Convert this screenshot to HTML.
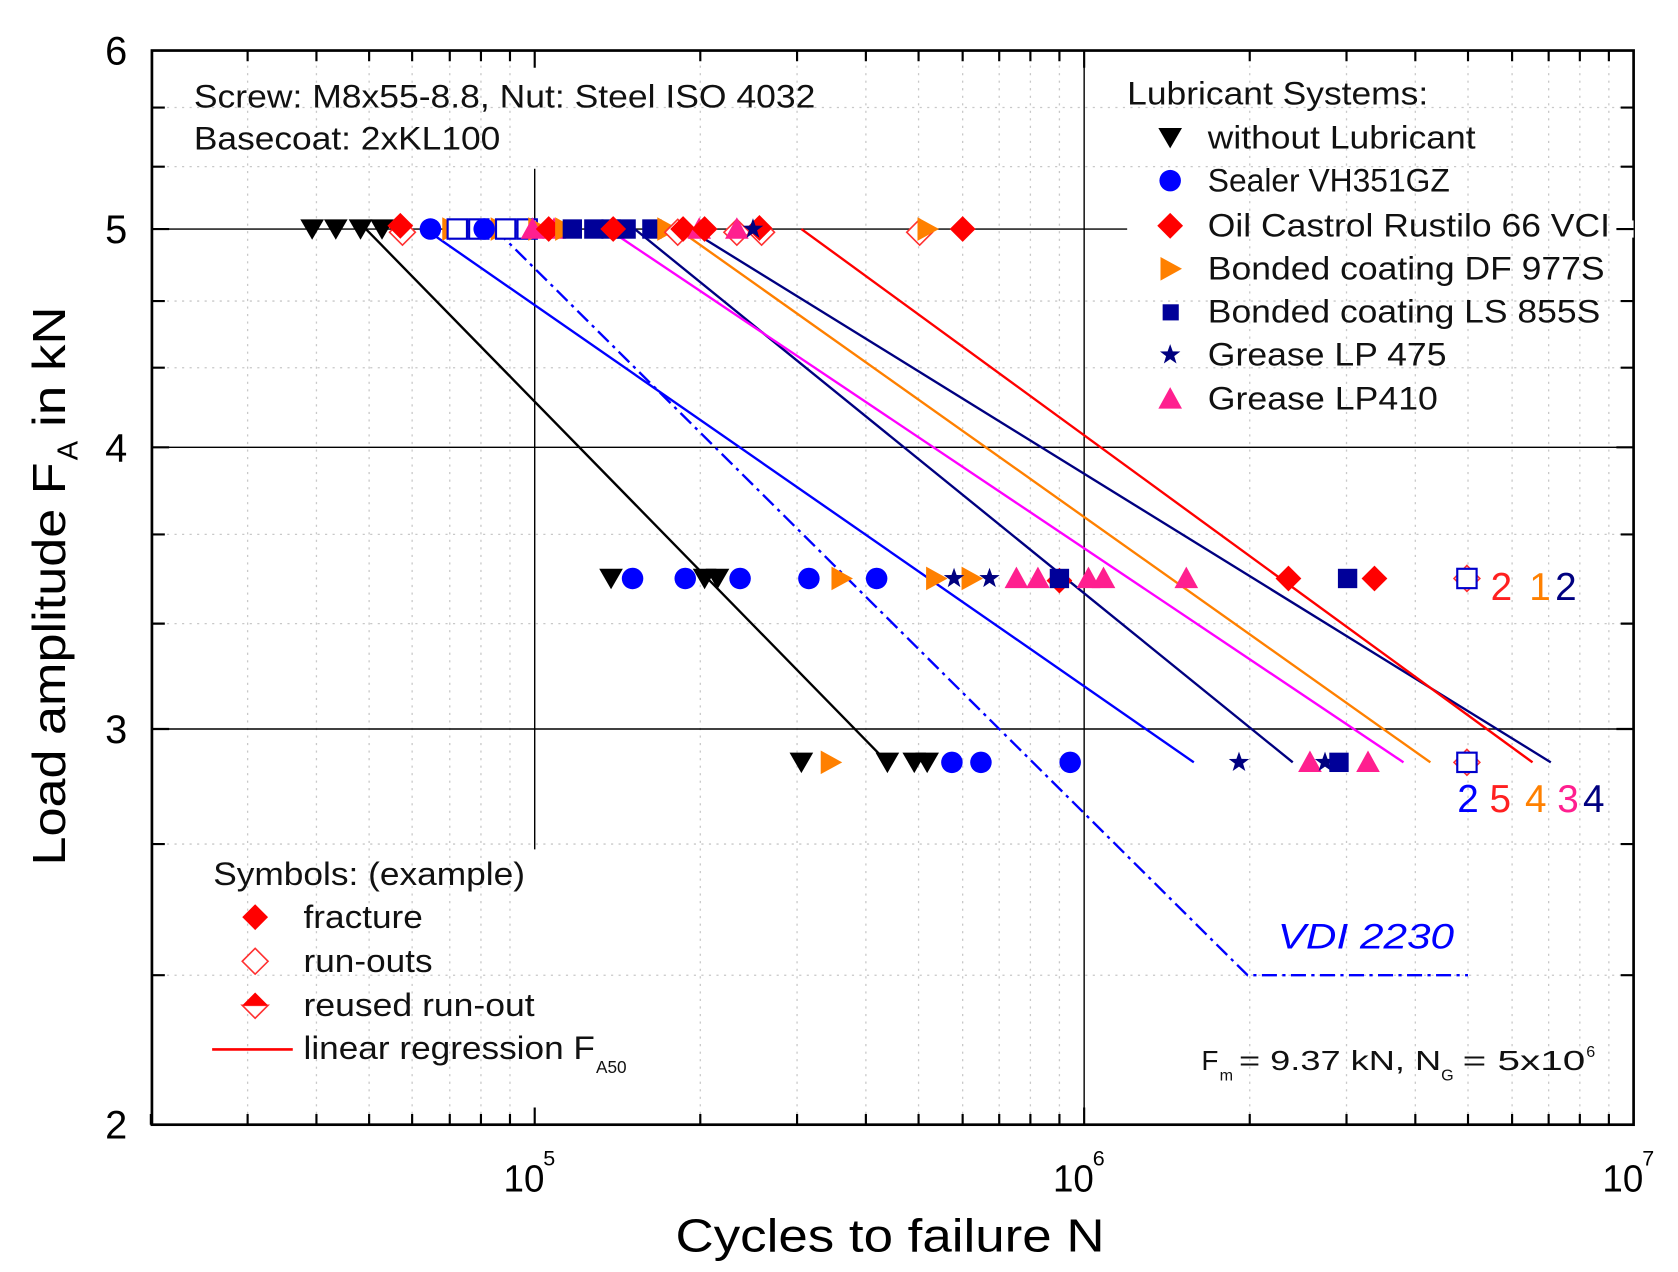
<!DOCTYPE html>
<html><head><meta charset="utf-8"><style>
html,body{margin:0;padding:0;background:#fff;}
svg{display:block;font-family:"Liberation Sans",Arial,sans-serif;}
</style></head><body>
<svg width="1678" height="1272" viewBox="0 0 1560 1183" xmlns="http://www.w3.org/2000/svg">
<defs>
<polygon id="dn" points="0,10 -11,-9 11,-9" fill="#000"/>
<circle id="ci" r="10" fill="#0000ff"/>
<polygon id="di" points="0,-12 12,0 0,12 -12,0" fill="#ff0000"/>
<polygon id="od" points="0,-12 12,0 0,12 -12,0" fill="#fff" stroke="#ff3030" stroke-width="1.5"/>
<polygon id="rt" points="-9,-11 11,0 -9,11" fill="#ff8000"/>
<rect id="sq" x="-9" y="-9" width="18" height="18" fill="#000099"/>
<rect id="os" x="-9" y="-9" width="18" height="18" fill="#fff" stroke="#0000cc" stroke-width="2"/>
<polygon id="st" points="0,-10 2.4,-3.2 9.5,-3.1 3.8,1.2 5.9,8.1 0,4 -5.9,8.1 -3.8,1.2 -9.5,-3.1 -2.4,-3.2" fill="#000080"/>
<polygon id="up" points="0,-11 11,9 -11,9" fill="#ff1f8f"/>
</defs>

<g stroke="#c8c8c8" stroke-width="1.2" stroke-dasharray="2 5">
<path d="M230 47V1046M294 47V1046M343 47V1046M383 47V1046M418 47V1046M447 47V1046M474 47V1046M651 47V1046M741 47V1046M805 47V1046M854 47V1046M895 47V1046M929 47V1046M958 47V1046M985 47V1046M1162 47V1046M1252 47V1046M1316 47V1046M1365 47V1046M1406 47V1046M1440 47V1046M1469 47V1046M1496 47V1046"/>
<path d="M141 100H1519M141 155H1519M141 280H1519M141 342H1519M141 497H1519M141 580H1519M141 785H1519M141 907H1519"/>
</g>
<g stroke="#000" stroke-width="1.3">
<path d="M141 213H1048M141 416H1519M141 678H1519M497 157V790M1008 47V1046"/>
</g>

<g fill="none" stroke-width="2.2">
<path d="M340 213L825 709" stroke="#000"/>
<path d="M395 213L1110 709" stroke="#0000ff"/>
<path d="M460 213L1160 907L1365 907" stroke="#0000ff" stroke-dasharray="14 5 3 5"/>
<path d="M590 213L1202 709" stroke="#000080"/>
<path d="M565 213L1305 709" stroke="#ff00ff"/>
<path d="M630 213L1330 709" stroke="#ff8000"/>
<path d="M640 213L1442 709" stroke="#000080"/>
<path d="M745 213L1425 709" stroke="#ff0000"/>
</g>

<g>
<use href="#dn" x="290" y="213"/><use href="#dn" x="312" y="213"/><use href="#dn" x="335" y="213"/><use href="#dn" x="355" y="213"/>
<use href="#od" x="374" y="216"/><use href="#di" x="372" y="210"/>
<use href="#rt" x="420" y="213"/><use href="#rt" x="465" y="213"/>
<use href="#os" x="425" y="213"/><use href="#os" x="445" y="213"/><use href="#os" x="470" y="213"/><use href="#os" x="490" y="213"/>
<use href="#ci" x="400" y="213"/><use href="#ci" x="450" y="213"/>
<use href="#rt" x="500" y="213"/><use href="#up" x="495" y="213"/><use href="#up" x="515" y="213"/>
<use href="#di" x="510" y="213"/><use href="#rt" x="525" y="213"/>
<use href="#sq" x="532" y="213"/><use href="#sq" x="552" y="213"/><use href="#sq" x="568" y="213"/><use href="#sq" x="582" y="213"/><use href="#sq" x="606" y="213"/>
<use href="#di" x="570" y="213"/><use href="#rt" x="620" y="213"/>
<use href="#od" x="630" y="216"/><use href="#di" x="635" y="213"/><use href="#up" x="650" y="213"/><use href="#di" x="655" y="213"/>
<use href="#od" x="685" y="216"/><use href="#up" x="685" y="213"/><use href="#od" x="708" y="216"/><use href="#di" x="706" y="212"/>
<use href="#st" x="700" y="213"/>
<use href="#od" x="855" y="216"/><use href="#rt" x="862" y="213"/><use href="#di" x="895" y="213"/>
</g>

<g>
<use href="#dn" x="568" y="538"/><use href="#dn" x="655" y="538"/><use href="#dn" x="667" y="538"/>
<use href="#ci" x="588" y="538"/><use href="#ci" x="637" y="538"/><use href="#ci" x="688" y="538"/><use href="#ci" x="752" y="538"/><use href="#ci" x="815" y="538"/>
<use href="#rt" x="782" y="538"/><use href="#rt" x="870" y="538"/><use href="#rt" x="903" y="538"/>
<use href="#st" x="887" y="538"/><use href="#st" x="920" y="538"/>
<use href="#up" x="945" y="538"/><use href="#up" x="965" y="538"/><use href="#di" x="985" y="540"/><use href="#sq" x="985" y="538"/>
<use href="#up" x="1012" y="538"/><use href="#up" x="1026" y="538"/><use href="#up" x="1103" y="538"/>
<use href="#di" x="1198" y="538"/><use href="#sq" x="1253" y="538"/><use href="#di" x="1278" y="538"/>
<use href="#od" x="1364" y="538"/><use href="#os" x="1364" y="538"/>
</g>
<g font-size="36">
<text x="1386" y="558" fill="#ff2020">2</text><text x="1422" y="558" fill="#ff8000">1</text><text x="1446" y="558" fill="#000080">2</text>
</g>

<g>
<use href="#dn" x="745" y="709"/><use href="#rt" x="772" y="709"/><use href="#dn" x="825" y="709"/><use href="#dn" x="850" y="709"/><use href="#dn" x="862" y="709"/>
<use href="#ci" x="885" y="709"/><use href="#ci" x="912" y="709"/><use href="#ci" x="995" y="709"/>
<use href="#st" x="1152" y="709"/><use href="#up" x="1218" y="709"/><use href="#st" x="1232" y="709"/><use href="#sq" x="1245" y="709"/><use href="#up" x="1272" y="709"/>
<use href="#od" x="1364" y="709"/><use href="#os" x="1364" y="709"/>
</g>
<g font-size="36">
<text x="1355" y="755" fill="#0000ff">2</text><text x="1385" y="755" fill="#ff2020">5</text><text x="1418" y="755" fill="#ff8000">4</text><text x="1448" y="755" fill="#ff1f8f">3</text><text x="1472" y="755" fill="#000080">4</text>
</g>

<rect x="141" y="47" width="1378" height="999" fill="none" stroke="#000" stroke-width="2.5"/>
<g stroke="#000" stroke-width="2">
<path d="M140 1046v-10M230 1046v-10M294 1046v-10M343 1046v-10M383 1046v-10M418 1046v-10M447 1046v-10M474 1046v-10M497 1046v-16M651 1046v-10M741 1046v-10M805 1046v-10M854 1046v-10M895 1046v-10M929 1046v-10M958 1046v-10M985 1046v-10M1008 1046v-16M1162 1046v-10M1252 1046v-10M1316 1046v-10M1365 1046v-10M1406 1046v-10M1440 1046v-10M1469 1046v-10M1496 1046v-10"/>
<path d="M230 47v10M294 47v10M343 47v10M383 47v10M418 47v10M447 47v10M474 47v10M497 47v16M651 47v10M741 47v10M805 47v10M854 47v10M895 47v10M929 47v10M958 47v10M985 47v10M1008 47v16M1162 47v10M1252 47v10M1316 47v10M1365 47v10M1406 47v10M1440 47v10M1469 47v10M1496 47v10"/>
<path d="M141 100h12M141 155h12M141 213h16M141 280h12M141 342h12M141 416h16M141 497h12M141 580h12M141 678h16M141 785h12M141 907h12"/>
<path d="M1519 100h-12M1519 155h-12M1519 213h-16M1519 280h-12M1519 342h-12M1519 416h-16M1519 497h-12M1519 580h-12M1519 678h-16M1519 785h-12M1519 907h-12"/>
</g>

<g font-size="37" fill="#000" text-anchor="end">
<text x="118" y="60">6</text><text x="118" y="226">5</text><text x="118" y="429">4</text><text x="118" y="691">3</text><text x="118" y="1059">2</text>
</g>
<g font-size="35" fill="#000">
<text x="468" y="1108" textLength="38" lengthAdjust="spacingAndGlyphs">10</text><text x="505" y="1084" font-size="20">5</text>
<text x="979" y="1108" textLength="38" lengthAdjust="spacingAndGlyphs">10</text><text x="1016" y="1084" font-size="20">6</text>
<text x="1490" y="1108" textLength="38" lengthAdjust="spacingAndGlyphs">10</text><text x="1527" y="1084" font-size="20">7</text>
</g>
<text x="628" y="1164" font-size="43" textLength="399" lengthAdjust="spacingAndGlyphs">Cycles to failure N</text>
<g transform="translate(60 805) rotate(-90)" font-size="43">
<text x="0" y="0" textLength="375" lengthAdjust="spacingAndGlyphs">Load amplitude F</text>
<text x="377" y="12" font-size="27">A</text>
<text x="408" y="0" textLength="112" lengthAdjust="spacingAndGlyphs">in kN</text>
</g>

<g font-size="30" fill="#111">
<text x="180" y="100" textLength="578" lengthAdjust="spacingAndGlyphs">Screw: M8x55-8.8, Nut: Steel ISO 4032</text>
<text x="180" y="139" textLength="285" lengthAdjust="spacingAndGlyphs">Basecoat: 2xKL100</text>
<text x="1048" y="97" textLength="280" lengthAdjust="spacingAndGlyphs">Lubricant Systems:</text>
<text x="1123" y="138" textLength="249" lengthAdjust="spacingAndGlyphs">without Lubricant</text>
<text x="1123" y="178" textLength="225" lengthAdjust="spacingAndGlyphs">Sealer VH351GZ</text>
<text x="1123" y="220" textLength="374" lengthAdjust="spacingAndGlyphs">Oil Castrol Rustilo 66 VCI</text>
<text x="1123" y="260" textLength="369" lengthAdjust="spacingAndGlyphs">Bonded coating DF 977S</text>
<text x="1123" y="300" textLength="365" lengthAdjust="spacingAndGlyphs">Bonded coating LS 855S</text>
<text x="1123" y="340" textLength="222" lengthAdjust="spacingAndGlyphs">Grease LP 475</text>
<text x="1123" y="381" textLength="214" lengthAdjust="spacingAndGlyphs">Grease LP410</text>
<text x="198" y="823" textLength="290" lengthAdjust="spacingAndGlyphs">Symbols: (example)</text>
<text x="282" y="863" textLength="111" lengthAdjust="spacingAndGlyphs">fracture</text>
<text x="282" y="904" textLength="120" lengthAdjust="spacingAndGlyphs">run-outs</text>
<text x="282" y="945" textLength="215" lengthAdjust="spacingAndGlyphs">reused run-out</text>
<text x="282" y="985" textLength="271" lengthAdjust="spacingAndGlyphs">linear regression F</text>
<text x="554" y="998" font-size="16">A50</text>
</g>
<rect x="1500" y="205" width="19" height="16" fill="#fff"/>
<path d="M1503 213h16" stroke="#000" stroke-width="2"/>
<g>
<use href="#dn" x="1088" y="128"/><use href="#ci" x="1088" y="168"/><use href="#di" x="1088" y="210"/><use href="#rt" x="1088" y="250"/>
<rect x="1081" y="283" width="15" height="15" fill="#000099"/><use href="#st" x="1088" y="330"/><use href="#up" x="1088" y="371"/>
<use href="#di" x="237" y="853"/><use href="#od" x="237" y="894"/>
<polygon points="225,935 249,935 237,947" fill="#fff" stroke="#ff3030" stroke-width="1.5"/>
<polygon points="225,935 237,923 249,935" fill="#ff0000"/>
</g>
<path d="M197 976H272" stroke="#ff0000" stroke-width="2.5"/>
<text x="1188" y="882" font-size="33" font-style="italic" fill="#0000ff" textLength="164" lengthAdjust="spacingAndGlyphs">VDI 2230</text>
<g font-size="26" fill="#111">
<text x="1117" y="995">F</text>
<text x="1134" y="1005" font-size="15">m</text>
<text x="1152" y="995" textLength="188" lengthAdjust="spacingAndGlyphs">= 9.37 kN, N</text>
<text x="1340" y="1005" font-size="15">G</text>
<text x="1360" y="995" textLength="114" lengthAdjust="spacingAndGlyphs">= 5x10</text>
<text x="1475" y="983" font-size="15">6</text>
</g>
</svg>
</body></html>
